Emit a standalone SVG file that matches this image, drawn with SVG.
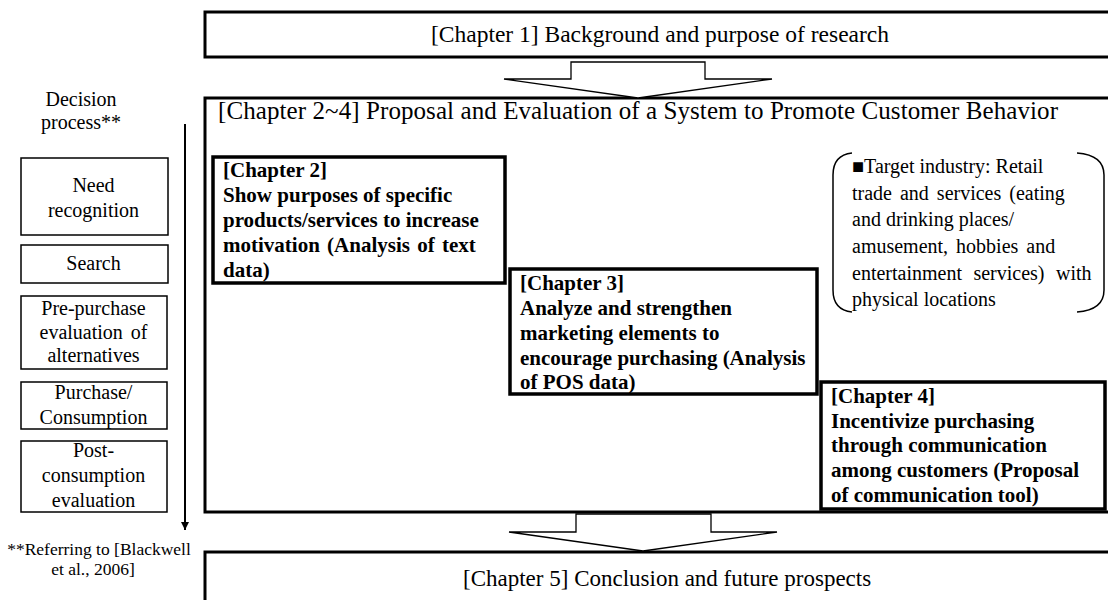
<svg xmlns="http://www.w3.org/2000/svg" width="1108" height="600" viewBox="0 0 1108 600">
<style>
text{font-family:"Liberation Serif","Times New Roman",serif;fill:#000}
.big{fill:#fff;stroke:#000;stroke-width:3}
.ch{fill:#fff;stroke:#000;stroke-width:3.5}
.step{fill:#fff;stroke:#000;stroke-width:1.5}
.arr{fill:#fff;stroke:#000;stroke-width:1.3;stroke-linejoin:miter}
.brk{fill:none;stroke:#000;stroke-width:1.5}
.t24{font-size:23.5px}
.t20{font-size:20px}
.b21{font-size:21px;font-weight:bold}
.mid{text-anchor:middle}
</style>
<defs>
<marker id="ah" markerWidth="10" markerHeight="10" refX="8" refY="4" orient="auto" markerUnits="userSpaceOnUse">
<path d="M0,0 L8,4 L0,8 Z" fill="#000"/>
</marker>
</defs>

<g id="chapter1">
<rect class="big" x="205" y="12" width="910" height="45"/>
<text class="t24 mid" x="660" y="42">[Chapter 1] Background and purpose of research</text>
</g>

<g id="chapter2to4">
<rect class="big" x="205" y="98" width="910" height="414"/>
<text class="t24" x="218" y="119" style="font-size:25px" textLength="840" lengthAdjust="spacing">[Chapter 2~4] Proposal and Evaluation of a System to Promote Customer Behavior</text>
</g>

<g id="chapter5">
<rect class="big" x="205" y="552" width="910" height="60"/>
<text class="t24" x="463" y="586" style="font-size:23px">[Chapter 5] Conclusion and future prospects</text>
</g>

<g id="connectors">
<path class="arr" d="M571,62 L705,62 L705,79 L772,79 L638,98 L504,79 L571,79 Z"/>
<path class="arr" d="M576,514 L711,514 L711,532 L777,532 L643,551 L509,532 L576,532 Z"/>
<line x1="185" y1="124" x2="185" y2="530" stroke="#000" stroke-width="2" marker-end="url(#ah)"/>
</g>

<g id="chapter2">
<rect class="ch" x="213" y="157" width="292" height="126"/>
<text class="b21" x="223" y="177">[Chapter 2]</text>
<text class="b21" x="223" y="201.7">Show purposes of specific</text>
<text class="b21" x="223" y="226.5">products/services to increase</text>
<text class="b21" x="223" y="251.5" style="word-spacing:2px">motivation (Analysis of text</text>
<text class="b21" x="223" y="276.5">data)</text>
</g>

<g id="chapter3">
<rect class="ch" x="510" y="269" width="307" height="125"/>
<text class="b21" x="520" y="290">[Chapter 3]</text>
<text class="b21" x="520" y="315">Analyze and strengthen</text>
<text class="b21" x="520" y="340">marketing elements to</text>
<text class="b21" x="520" y="365">encourage purchasing (Analysis</text>
<text class="b21" x="520" y="389">of POS data)</text>
</g>

<g id="chapter4">
<rect class="ch" x="821" y="382" width="284" height="127"/>
<text class="b21" x="831" y="403">[Chapter 4]</text>
<text class="b21" x="831" y="427.7">Incentivize purchasing</text>
<text class="b21" x="831" y="452.3">through communication</text>
<text class="b21" x="831" y="477">among customers  (Proposal</text>
<text class="b21" x="831" y="501.5">of communication  tool)</text>
</g>

<g id="target">
<path class="brk" d="M852,153 Q833,155 833,175 L833,290 Q833,310 852,312"/>
<path class="brk" d="M1077,153 Q1104,155 1104,175 L1104,290 Q1104,310 1077,312"/>
<text class="t20" x="852" y="173">■Target industry: Retail</text>
<text class="t20" x="852" y="199.7" style="word-spacing:3px">trade and services (eating</text>
<text class="t20" x="852" y="226.4">and drinking places/</text>
<text class="t20" x="852" y="253" style="word-spacing:3px">amusement, hobbies and</text>
<text class="t20" x="852" y="279.7" style="word-spacing:6.5px">entertainment services) with</text>
<text class="t20" x="852" y="306">physical locations</text>
</g>

<g id="decision">
<text class="t20 mid" x="81" y="106">Decision</text>
<text class="t20 mid" x="81" y="129">process**</text>
</g>

<g id="need">
<rect class="step" x="21" y="158" width="147" height="77"/>
<text class="t20 mid" x="93.5" y="192">Need</text>
<text class="t20 mid" x="93.5" y="217">recognition</text>
</g>

<g id="search">
<rect class="step" x="21" y="245" width="147" height="38"/>
<text class="t20 mid" x="93.5" y="270">Search</text>
</g>

<g id="prepurchase">
<rect class="step" x="21" y="296" width="146" height="73"/>
<text class="t20 mid" x="93.5" y="315">Pre-purchase</text>
<text class="t20 mid" x="93.5" y="338.5" style="word-spacing:3px">evaluation of</text>
<text class="t20 mid" x="93.5" y="362">alternatives</text>
</g>

<g id="purchase">
<rect class="step" x="21" y="382" width="146" height="47"/>
<text class="t20 mid" x="93.5" y="399">Purchase/</text>
<text class="t20 mid" x="93.5" y="424">Consumption</text>
</g>

<g id="postconsumption">
<rect class="step" x="21" y="441" width="146" height="71"/>
<text class="t20 mid" x="93.5" y="457">Post-</text>
<text class="t20 mid" x="93.5" y="482">consumption</text>
<text class="t20 mid" x="93.5" y="507">evaluation</text>
</g>

<g id="reference">
<text class="mid" style="font-size:17.5px" x="99" y="555">**Referring to [Blackwell</text>
<text class="mid" style="font-size:17.5px" x="93" y="575">et al., 2006]</text>
</g>
</svg>
